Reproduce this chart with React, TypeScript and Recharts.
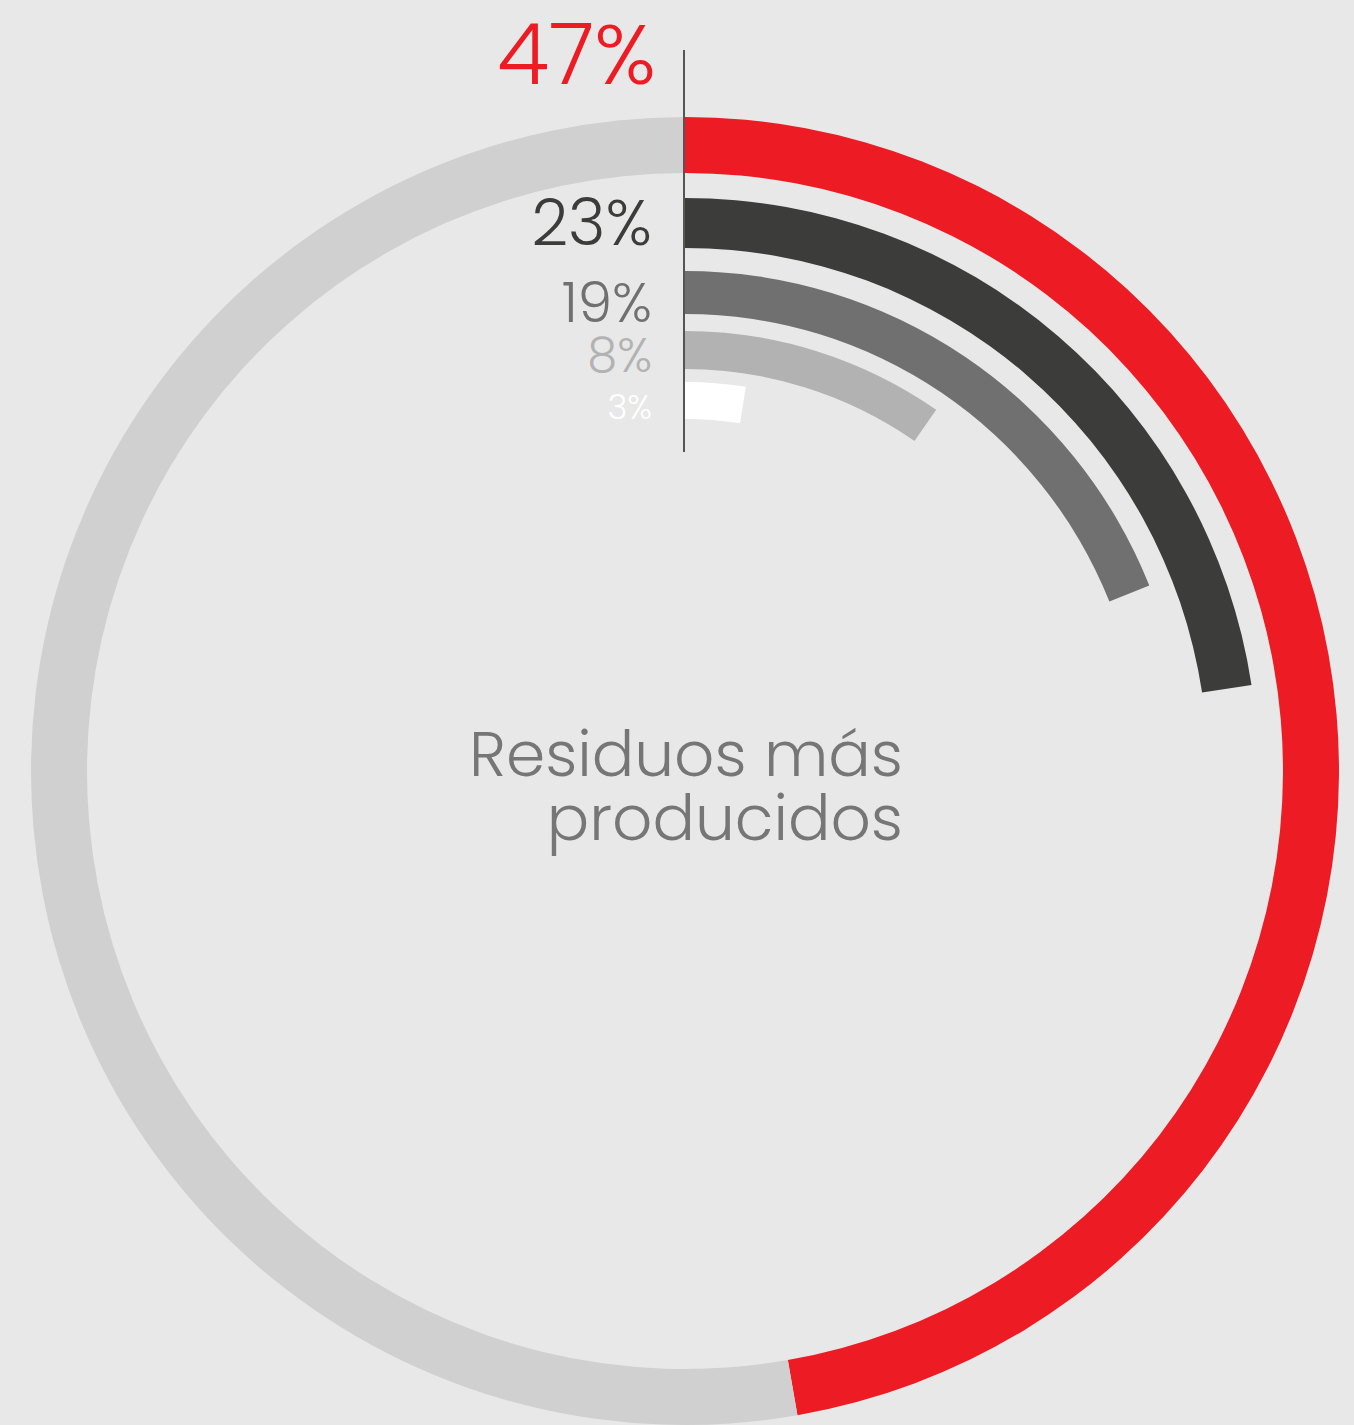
import React from "react";
import { PieChart, Pie, Cell } from "recharts";

// Data
const categories = ["Residuo A", "Residuo B", "Residuo C", "Residuo D", "Residuo E"];
const percentLabels = ["47%", "23%", "19%", "8%", "3%"];
// arc share (out of 100)
const arcValues = [47.25, 22.6, 18.95, 9.67, 2.5];
const centerTitle = ["Residuos más", "producidos"];

// Styles (kept separate from data)
const ringColors = ["#ed1c24", "#3c3c3b", "#707070", "#b2b2b2", "#ffffff"];
const ringRadii = [
  [598, 654],
  [523, 573],
  [457, 500],
  [402, 440],
  [352, 389],
];
const labelSizes = [85, 64, 55, 48, 34];
// baseline offset relative to the ring (from outer edge for first, inner edge for others)
const labelDy = [-33, -3, 8, 3, 0];
const labelDx = [-29, -33, -33, -33, -33];
const TRACK = "#d0d0d0";
const BG = "#e8e8e8";
const FONT = "Poppins, Lato, 'Open Sans', sans-serif";

const CX = 685;
const CY = 771;

function makeLabel(i: number) {
  return (props: any) => {
    if (props.index !== 0) return null;
    const { cx, cy, innerRadius, outerRadius } = props;
    const baseY = i === 0 ? cy - outerRadius + labelDy[i] : cy - innerRadius + labelDy[i];
    return (
      <g key={`lbl-${i}`}>
        <text
          x={cx + labelDx[i]}
          y={baseY}
          textAnchor="end"
          fontFamily={FONT}
          fontWeight={300}
          fontSize={labelSizes[i]}
          fill={ringColors[i]}
        >
          {percentLabels[i]}
        </text>
        {i === 0 && (
          <g>
            <text x={cx + 218} y={cy + 5} textAnchor="end" fontFamily={FONT} fontWeight={300} fontSize={63} fill="#767676">
              {centerTitle[0]}
            </text>
            <text x={cx + 218} y={cy + 69} textAnchor="end" fontFamily={FONT} fontWeight={300} fontSize={63} fill="#767676">
              {centerTitle[1]}
            </text>
          </g>
        )}
        {i === 4 && (
          <line x1={cx - 1} x2={cx - 1} y1={cy - 721} y2={cy - 319} stroke="#555555" strokeWidth={2} />
        )}
      </g>
    );
  };
}

export default function App() {
  return (
    <div style={{ position: "absolute", left: 0, top: 0, width: 1354, height: 1425, background: BG, overflow: "hidden" }}>
      <PieChart width={1354} height={1425} margin={{ top: 0, right: 0, bottom: 0, left: 0 }}>
        {arcValues.map((v, i) => (
          <Pie
            key={categories[i]}
            data={[
              { name: categories[i], value: v },
              { name: "resto", value: 100 - v },
            ]}
            dataKey="value"
            cx={CX}
            cy={CY}
            innerRadius={ringRadii[i][0]}
            outerRadius={ringRadii[i][1]}
            startAngle={90}
            endAngle={-270}
            stroke="none"
            paddingAngle={0}
            isAnimationActive={false}
            label={makeLabel(i)}
            labelLine={false}
          >
            <Cell fill={ringColors[i]} />
            <Cell fill={i === 0 ? TRACK : "transparent"} />
          </Pie>
        ))}
      </PieChart>
    </div>
  );
}
